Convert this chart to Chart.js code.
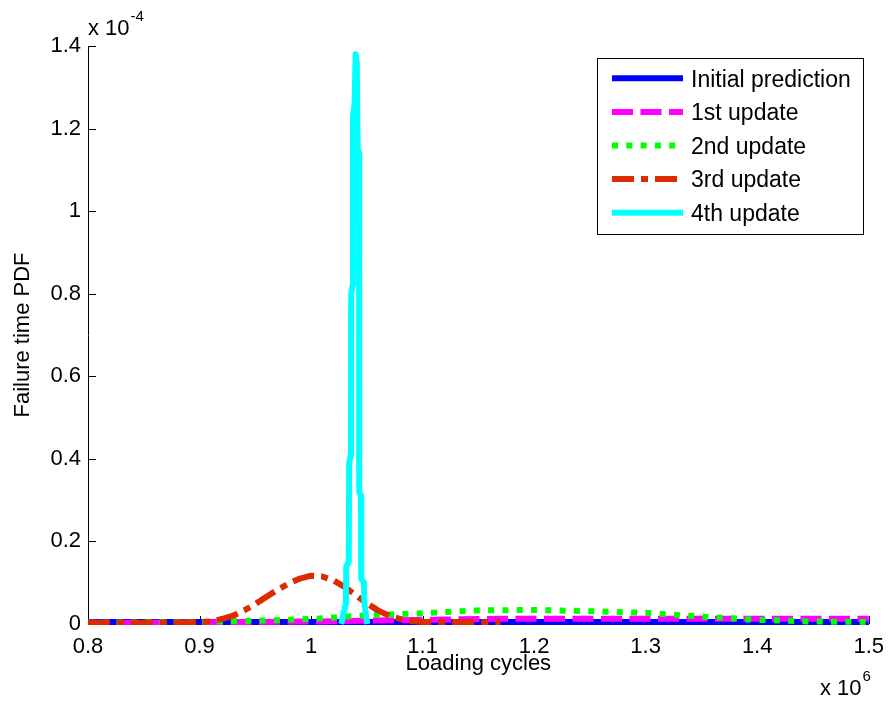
<!DOCTYPE html>
<html>
<head>
<meta charset="utf-8">
<title>Failure time PDF</title>
<script src="https://cdn.jsdelivr.net/npm/chart.js@4.4.0/dist/chart.umd.min.js"></script>
<style>
  body { margin: 0; background: #fff; }
  #wrap { width: 894px; height: 704px; }
</style>
</head>
<body>
<div id="wrap"><canvas id="myChart" width="894" height="704"></canvas></div>
<script>
// x values are loading cycles in units of 1e6, y values are PDF in units of 1e-4
const xTicks = [0.8, 0.9, 1, 1.1, 1.2, 1.3, 1.4, 1.5];
const yTicks = [0, 0.2, 0.4, 0.6, 0.8, 1, 1.2, 1.4];

const cyclesCoarse = [0.8, 0.85, 0.9, 0.95, 1.0, 1.05, 1.1, 1.15, 1.2, 1.25, 1.3, 1.35, 1.4, 1.45, 1.5];
const initialPdf  = [0.005, 0.005, 0.005, 0.005, 0.005, 0.005, 0.005, 0.005, 0.005, 0.005, 0.005, 0.005, 0.005, 0.005, 0.005];
const update1Pdf  = [0.003, 0.003, 0.004, 0.005, 0.006, 0.008, 0.010, 0.012, 0.013, 0.013, 0.013, 0.013, 0.013, 0.013, 0.013];
const update2Pdf  = [0.003, 0.004, 0.005, 0.008, 0.012, 0.021, 0.026, 0.033, 0.034, 0.031, 0.027, 0.018, 0.010, 0.006, 0.005];

const cycles3    = [0.8, 0.85, 0.9, 0.91, 0.92, 0.93, 0.94, 0.95, 0.96, 0.97, 0.98, 0.99, 1.0, 1.01, 1.02, 1.03, 1.04, 1.05, 1.06, 1.07, 1.08, 1.09, 1.1, 1.17];
const update3Pdf = [0.003, 0.003, 0.004, 0.006, 0.012, 0.02, 0.033, 0.048, 0.066, 0.083, 0.098, 0.110, 0.117, 0.115, 0.106, 0.090, 0.070, 0.050, 0.033, 0.020, 0.012, 0.007, 0.005, 0.004];

const cycles4    = [1.0271, 1.0312, 1.0316, 1.0338, 1.0342, 1.0358, 1.0360, 1.0372, 1.0376, 1.0390, 1.0400, 1.0410, 1.0418, 1.0430, 1.0432, 1.0448, 1.0450, 1.0474, 1.0478, 1.0504];
const update4Pdf = [0.0, 0.05, 0.14, 0.15, 0.39, 0.41, 0.80, 0.82, 1.23, 1.26, 1.38, 1.36, 1.15, 1.14, 0.32, 0.31, 0.11, 0.10, 0.05, 0.0];

const FONT = 'Liberation Sans, Arial, sans-serif';

function zip(xs, ys) {
    return xs.map((x, i) => ({ x: x, y: ys[i] }));
}

function series(label, xs, ys, color, dash, order) {
    return {
        label: label,
        data: zip(xs, ys),
        borderColor: color,
        backgroundColor: color,
        borderWidth: 6,
        borderDash: dash,
        borderCapStyle: 'butt',
        borderJoinStyle: 'round',
        pointRadius: 0,
        tension: 0,
        fill: false,
        order: order,
        clip: { left: 3, top: 3, right: 3, bottom: 1 }
    };
}

// MATLAB style ticks pointing into the plot
const innerTicks = {
    id: 'innerTicks',
    beforeDatasetsDraw(chart) {
        const { ctx, chartArea, scales } = chart;
        ctx.save();
        ctx.strokeStyle = '#000';
        ctx.lineWidth = 1;
        ctx.beginPath();
        yTicks.forEach(v => {
            const y = Math.round(scales.y.getPixelForValue(v)) + 0.5;
            ctx.moveTo(chartArea.left, y);
            ctx.lineTo(chartArea.left + 8, y);
        });
        xTicks.forEach(v => {
            const x = Math.round(scales.x.getPixelForValue(v)) + 0.5;
            ctx.moveTo(x, chartArea.bottom);
            ctx.lineTo(x, chartArea.bottom - 8);
        });
        ctx.stroke();
        ctx.restore();
    }
};

// exponent labels "x 10^-4" and "x 10^6"
function drawPower(ctx, x, y, base, exp) {
    ctx.font = '22px ' + FONT;
    ctx.fillText(base, x, y);
    const w = ctx.measureText(base).width;
    ctx.font = '15px ' + FONT;
    ctx.fillText(exp, x + w + 1, y - 14);
}

const exponents = {
    id: 'exponents',
    afterDraw(chart) {
        const ctx = chart.ctx;
        ctx.save();
        ctx.fillStyle = '#000';
        ctx.textBaseline = 'alphabetic';
        ctx.textAlign = 'left';
        drawPower(ctx, 88, 35, 'x 10', '-4');
        drawPower(ctx, 820, 695, 'x 10', '6');
        ctx.restore();
    }
};

// boxed legend in the upper right corner
const boxLegend = {
    id: 'boxLegend',
    afterDraw(chart) {
        const ctx = chart.ctx;
        const sets = chart.data.datasets;
        ctx.save();
        ctx.fillStyle = '#fff';
        ctx.fillRect(597, 58, 267, 177);
        ctx.strokeStyle = '#000';
        ctx.lineWidth = 1;
        ctx.strokeRect(597.5, 58.5, 266, 176);
        sets.forEach((ds, i) => {
            const y = 78.3 + i * 33.6;
            ctx.beginPath();
            ctx.strokeStyle = ds.borderColor;
            ctx.lineWidth = ds.borderWidth;
            ctx.lineCap = 'butt';
            ctx.setLineDash(ds.borderDash);
            ctx.moveTo(612, y);
            ctx.lineTo(683, y);
            ctx.stroke();
            ctx.setLineDash([]);
            ctx.fillStyle = '#000';
            ctx.font = '23px ' + FONT;
            ctx.textBaseline = 'middle';
            ctx.textAlign = 'left';
            ctx.fillText(ds.label, 691, y + 2);
        });
        ctx.restore();
    }
};

const data = {
    datasets: [
        series('Initial prediction', cyclesCoarse, initialPdf, '#0000ff', [], 5),
        series('1st update', cyclesCoarse, update1Pdf, '#ff00ff', [21, 7.5], 4),
        series('2nd update', cyclesCoarse, update2Pdf, '#00ff00', [6, 8.3], 3),
        series('3rd update', cycles3, update3Pdf, '#dd2a00', [22, 7, 7, 7], 2),
        series('4th update', cycles4, update4Pdf, '#00ffff', [], 1)
    ]
};

const config = {
    type: 'line',
    data: data,
    options: {
        responsive: false,
        animation: false,
        devicePixelRatio: 1,
        layout: { padding: { top: 46, right: 21, left: 0, bottom: 0 } },
        plugins: {
            legend: { display: false },
            tooltip: { enabled: false }
        },
        scales: {
            x: {
                type: 'linear',
                min: 0.8,
                max: 1.5,
                afterBuildTicks: s => { s.ticks = xTicks.map(v => ({ value: v })); },
                afterFit: s => { s.height = 80; },
                grid: { display: false, drawTicks: false },
                border: { display: true, color: '#000', width: 1 },
                ticks: {
                    color: '#000',
                    font: { family: FONT, size: 22 },
                    padding: 10,
                    maxRotation: 0,
                    autoSkip: false,
                    callback: v => String(v)
                },
                title: {
                    display: true,
                    text: 'Loading cycles',
                    color: '#000',
                    font: { family: FONT, size: 22 },
                    padding: { top: 0, bottom: 27 }
                }
            },
            y: {
                type: 'linear',
                min: 0,
                max: 1.4,
                afterBuildTicks: s => { s.ticks = yTicks.map(v => ({ value: v })); },
                afterFit: s => { s.width = 88; },
                grid: { display: false, drawTicks: false },
                border: { display: true, color: '#000', width: 1 },
                ticks: {
                    color: '#000',
                    font: { family: FONT, size: 22 },
                    padding: 7,
                    autoSkip: false,
                    callback: v => String(v)
                },
                title: {
                    display: true,
                    text: 'Failure time PDF',
                    color: '#000',
                    font: { family: FONT, size: 22 },
                    padding: { top: 10, bottom: 0 }
                }
            }
        }
    },
    plugins: [innerTicks, exponents, boxLegend]
};

const myChart = new Chart(document.getElementById('myChart').getContext('2d'), config);
</script>
</body>
</html>
